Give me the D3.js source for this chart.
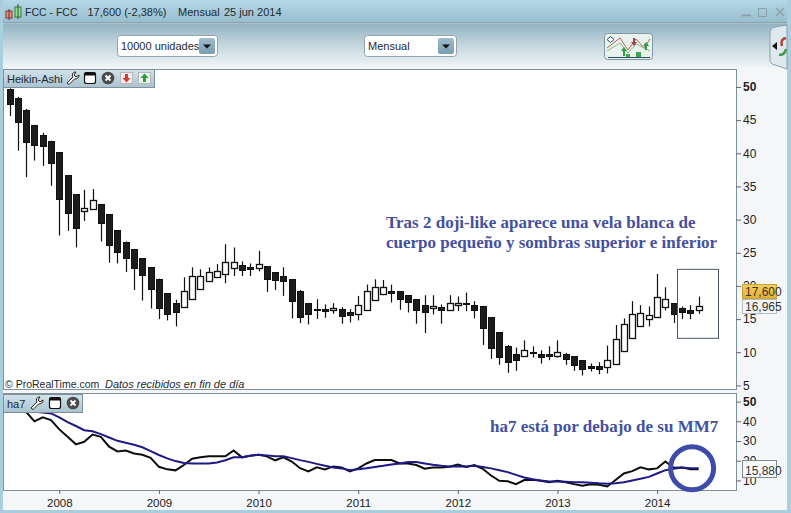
<!DOCTYPE html>
<html><head><meta charset="utf-8">
<script src="https://cdn.jsdelivr.net/npm/d3@7"></script>
<style>html,body{margin:0;padding:0;background:#fff;overflow:hidden}svg{display:block}text{font-family:"Liberation Sans",Arial,sans-serif}</style>
</head><body><div id="c"></div>
<script>
const opens=[49.7,48.4,46.6,44.2,42.7,41.8,40.2,36.7,33.8,31.3,31.6,32.3,30.8,28.4,26.7,25.5,24.2,22.8,21.1,18.9,17.4,16.8,18.0,19.6,20.7,21.3,21.8,22.7,23.1,22.9,22.7,23.0,22.1,21.5,21.0,19.3,17.4,16.5,16.5,16.3,16.5,16.0,15.7,16.5,17.8,18.9,19.3,19.2,18.6,18.0,17.2,16.6,16.8,16.5,17.1,17.4,17.2,16.9,15.3,13.0,11.0,9.8,9.4,10.0,9.8,9.7,9.5,9.8,9.4,8.8,8.0,7.9,7.7,8.2,10.1,12.1,13.9,15.0,15.3,16.8,17.4,16.6,16.3,16.3];
const closes=[47.4,44.8,41.8,41.2,41.0,38.5,33.1,30.9,28.6,31.8,32.9,29.4,26.1,25.1,24.3,22.6,21.6,19.5,16.8,15.7,16.1,19.2,21.5,21.5,22.1,22.2,23.6,23.6,22.4,22.6,23.3,21.0,20.9,20.7,17.7,15.4,15.7,16.3,16.2,16.6,15.4,15.5,17.1,19.3,19.8,19.9,19.0,18.0,17.5,16.3,16.2,16.9,16.3,17.5,17.4,17.2,16.5,13.6,10.7,9.2,8.6,8.9,10.3,9.8,9.4,9.4,10.1,9.1,8.0,7.4,7.7,7.4,8.8,12.0,14.2,15.7,15.9,15.6,18.3,18.0,15.7,16.0,15.9,16.9];
const highs=[49.8,48.5,46.7,44.3,43.1,41.9,40.2,36.7,33.8,34.5,34.6,32.3,30.8,28.4,26.7,25.5,24.2,22.8,21.1,18.9,17.9,21.3,22.8,22.5,22.8,23.3,26.3,25.8,23.7,23.4,25.3,23.0,22.1,22.8,21.0,19.4,17.4,18.0,17.2,17.4,16.8,16.5,18.5,20.2,21.0,20.9,20.2,19.2,18.6,18.0,18.6,18.6,17.2,18.6,18.4,19.0,17.7,17.0,15.3,13.0,11.1,10.7,11.8,10.9,10.3,10.9,11.8,9.9,9.4,8.8,8.3,8.5,11.0,14.1,15.1,17.7,17.1,16.9,21.8,19.8,17.4,16.9,17.1,18.4];
const lows=[45.6,40.4,36.4,38.9,38.1,35.1,27.6,28.3,25.8,29.8,31.6,26.7,23.5,23.4,22.1,19.4,17.8,16.6,15.0,14.8,13.9,16.8,18.0,19.6,20.7,21.3,20.4,21.5,21.5,21.5,22.2,19.1,19.4,18.5,15.1,14.4,14.2,15.0,15.2,15.8,14.3,14.5,14.8,16.5,17.8,18.6,17.5,16.4,16.0,14.3,12.9,15.7,14.3,16.3,16.2,16.2,15.1,11.1,9.0,8.1,6.9,7.2,9.4,9.2,8.3,8.8,9.2,8.1,7.2,6.5,7.1,6.7,6.8,8.2,10.1,12.1,13.9,13.9,15.3,16.3,14.4,15.0,15.0,15.8];
const ha7=[47.5,46.5,44.8,40.0,42.0,40.6,35.9,32.1,28.3,29.6,33.3,32.1,27.1,24.7,25.2,23.7,23.0,21.5,16.9,15.6,15.1,17.8,21.0,21.7,22.2,22.2,22.2,25.2,21.7,22.5,23.0,22.2,20.2,21.7,19.6,16.2,14.6,16.6,15.6,17.1,16.6,14.6,16.1,18.6,20.3,20.3,20.3,18.6,18.6,17.8,15.9,16.6,16.6,16.9,18.1,16.8,17.8,15.9,12.5,9.8,9.6,8.1,10.2,10.3,9.8,9.1,9.8,9.1,8.1,7.3,8.1,7.8,6.9,10.2,13.5,14.7,16.6,15.6,16.1,19.6,16.4,16.6,15.6,15.6];
const mm7=[47.5,46.8,46.0,44.9,44.5,44.0,42.0,39.6,37.6,35.5,34.9,33.5,31.8,30.1,29.1,28.1,26.8,24.9,22.9,21.2,19.8,18.8,18.6,18.6,18.6,19.1,20.2,21.7,21.8,22.5,23.0,22.7,22.2,22.2,21.3,20.3,19.4,18.4,17.4,16.6,16.1,15.2,15.7,16.2,16.8,17.4,18.1,18.6,19.3,19.3,18.6,17.9,17.4,17.1,17.1,17.1,17.4,16.8,16.1,15.2,14.2,12.8,11.5,10.6,10.0,9.5,9.5,9.3,9.1,9.0,8.8,8.5,8.3,8.5,9.1,10.0,10.8,11.8,13.5,15.2,15.9,16.6,16.2,16.2];
const priceTicks=[5,10,15,20,25,30,35,40,45,50];
const lowerTicks=[10,20,30,40,50];
const yearLabels=["2008","2009","2010","2011","2012","2013","2014"];
const yearIndex=[6,18,30,42,54,66,78];
const noteMain=["Tras 2 doji-like aparece una vela blanca de","cuerpo pequeño y sombras superior e inferior"];
const noteLower="ha7 está por debajo de su MM7";

const W=791,H=513;
const svg=d3.select("#c").append("svg").attr("width",W).attr("height",H);
const defs=svg.append("defs");
function grad(id,stops){const g=defs.append("linearGradient").attr("id",id).attr("x1",0).attr("y1",0).attr("x2",0).attr("y2",1);
 stops.forEach(s=>g.append("stop").attr("offset",s[0]).attr("stop-color",s[1]));}
grad("gTitle",[[0,"#b5d8e8"],[1,"#97bccb"]]);
grad("gTool",[[0,"#93b4c3"],[.45,"#c3d6de"],[1,"#f6f9fa"]]);
grad("gLabel",[[0,"#d3e3ea"],[1,"#a8c3d0"]]);
grad("gBtn",[[0,"#9fbccb"],[1,"#7b9dae"]]);
grad("gGold",[[0,"#f4cf58"],[1,"#e3ae35"]]);
defs.append("clipPath").attr("id","cpM").append("rect").attr("x",3).attr("y",70).attr("width",733).attr("height",319);
defs.append("clipPath").attr("id","cpL").append("rect").attr("x",3).attr("y",394).attr("width",733).attr("height",96);

// window chrome
svg.append("rect").attr("width",W).attr("height",H).attr("fill","#e9f0f3");
svg.append("rect").attr("width",W).attr("height",23).attr("fill","url(#gTitle)");
svg.append("rect").attr("y",22.5).attr("width",W).attr("height",1).attr("fill","#6f8f9d");
svg.append("rect").attr("y",24).attr("width",W).attr("height",46).attr("fill","url(#gTool)");
svg.append("rect").attr("width",3).attr("height",H).attr("fill","#a9cedd");
svg.append("rect").attr("x",787).attr("width",4).attr("height",H).attr("fill","#a9cedd");
svg.append("rect").attr("y",510).attr("width",W).attr("height",3).attr("fill","#a9cedd");
svg.append("rect").attr("x",3).attr("y",70).attr("width",784).attr("height",440).attr("fill","#f4f6f7");

// title bar
const tb=svg.append("g");
tb.append("rect").attr("x",6).attr("y",11).attr("width",6).attr("height",7).attr("fill","#e88b78").attr("stroke","#8a3b2e");
tb.append("rect").attr("x",15).attr("y",7).attr("width",6).attr("height",10).attr("fill","#8fe08f").attr("stroke","#2f7f2f");
tb.append("path").attr("d","M9 9V20M18 4V19").attr("stroke","#444").attr("stroke-width",1);
function T(x,y,s,size,o={}){return svg.append("text").attr("x",x).attr("y",y).attr("font-size",size).attr("fill",o.fill||"#1d2a30").attr("font-weight",o.w||"normal").attr("font-style",o.st||"normal").attr("text-anchor",o.a||"start").text(s);}
T(25,16,"FCC - FCC",10.5);T(87.5,16,"17,600 (-2,38%)",11);T(178,16,"Mensual",11);T(224,16,"25 jun 2014",11);
svg.append("path").attr("d","M742 15.5H751").attr("stroke","#8aa0aa").attr("stroke-width",2);
svg.append("rect").attr("x",758.5).attr("y",8.5).attr("width",8).attr("height",8).attr("fill","none").attr("stroke","#8aa0aa");
svg.append("path").attr("d","M776 8L784 16M784 8L776 16").attr("stroke","#8aa0aa").attr("stroke-width",1.5);

// combos
function combo(x,w,label){
 svg.append("rect").attr("x",x+.5).attr("y",35.5).attr("width",w).attr("height",21).attr("rx",3).attr("fill","#fff").attr("stroke","#8fa6b1");
 T(x+4,50,label,11);
 svg.append("rect").attr("x",x+w-18).attr("y",38).attr("width",16).attr("height",16).attr("rx",2).attr("fill","url(#gBtn)");
 svg.append("path").attr("d",`M${x+w-14} 44.5h8l-4 4z`).attr("fill","#111");
}
combo(117,100,"10000 unidades");combo(364,92,"Mensual");

// toolbar chart button
const tbn=svg.append("g").attr("transform","translate(604,33)");
tbn.append("rect").attr("x",.5).attr("y",.5).attr("width",48).attr("height",26).attr("rx",3).attr("fill","#e9f1ec").attr("stroke","#7f97a3");
tbn.append("path").attr("d","M3 15L16 5L24 17L32 6L40 15L46 6").attr("fill","none").attr("stroke","#b0664e");
tbn.append("path").attr("d","M3 18L16 10L24 20L32 11L46 18").attr("fill","none").attr("stroke","#8db887");
tbn.append("path").attr("d","M4 24.5H46").attr("stroke","#334a66").attr("stroke-width",1);
tbn.append("path").attr("d","M19 23v-5h-2l3-4 3 4h-2v5zM41 17v-4h-2l3-4 3 4h-2v4z").attr("fill","#2e9b45");
tbn.append("path").attr("d","M29 5v4h-2l3 4 3-4h-2v-4z").attr("fill","#a63f4a");
tbn.append("path").attr("d","M32 24v-5h5v5zM22 24v-3h4v3z").attr("fill","#3fa652");
tbn.append("path").attr("d","M3 6.5l3.5-3 3.5 3-3.5 3z").attr("fill","#fff").attr("stroke","#2a4f7a");

// side tab
svg.append("path").attr("d","M787 25L775 27Q770 28 770 33V60Q770 64 775 65L787 69Z").attr("fill","#dfe8ec").attr("stroke","#8aa0aa");
svg.append("path").attr("d","M772 46l5-4v8z").attr("fill","#111");
svg.append("path").attr("d","M786 38q-6 1-4 8").attr("fill","none").attr("stroke","#b5413e").attr("stroke-width",2.5);
svg.append("path").attr("d","M786 49q-1 6-7 6").attr("fill","none").attr("stroke","#3a9a48").attr("stroke-width",2.5);

// main panel
const x=d3.scaleLinear().domain([0,83]).range([9.5,698.6]);
const y=d3.scaleLinear().domain([5,50]).range([385.4,87]);
const yL=d3.scaleLinear().domain([10,50]).range([480.4,401.6]);
svg.append("rect").attr("x",3.5).attr("y",69.5).attr("width",733).attr("height",320).attr("fill","#fff").attr("stroke","#7f9099");
svg.append("rect").attr("x",3.5).attr("y",393.5).attr("width",733).attr("height",97).attr("fill","#fff").attr("stroke","#7f9099");

const gM=svg.append("g").attr("clip-path","url(#cpM)");
const idx=d3.range(opens.length);
gM.selectAll("line.w").data(idx).join("line").attr("class","w")
 .attr("x1",i=>Math.round(x(i))+.5).attr("x2",i=>Math.round(x(i))+.5)
 .attr("y1",i=>y(highs[i])).attr("y2",i=>y(lows[i])).attr("stroke","#111").attr("stroke-width",1.2);
gM.selectAll("rect.b").data(idx).join("rect").attr("class","b")
 .attr("x",i=>Math.round(x(i))-2.5).attr("width",6)
 .attr("y",i=>Math.round(y(Math.max(opens[i],closes[i])))+.5)
 .attr("height",i=>Math.max(1,Math.round(Math.abs(y(opens[i])-y(closes[i])))))
 .attr("fill",i=>closes[i]>=opens[i]?"#fff":"#1c1c1c").attr("stroke","#111").attr("stroke-width",i=>closes[i]>=opens[i]?1.3:1);

// highlight box
gM.append("rect").attr("x",677.5).attr("y",y(22.5)).attr("width",41).attr("height",y(12.1)-y(22.5)).attr("fill","none").attr("stroke","#4a5568").attr("stroke-width",1);

// lower panel
const gL=svg.append("g").attr("clip-path","url(#cpL)");
const ln=d3.line().x((d,i)=>x(i)).y(d=>yL(d));
gL.append("path").datum(ha7).attr("d",ln).attr("fill","none").attr("stroke","#0d0d0d").attr("stroke-width",2);
gL.append("path").datum(mm7).attr("d",ln).attr("fill","none").attr("stroke","#1d1a85").attr("stroke-width",2);
svg.append("circle").attr("cx",x(83)-6.5).attr("cy",468.3).attr("r",21.5).attr("fill","none").attr("stroke","#3f4ba8").attr("stroke-width",5);

// axes
function style(g){g.select(".domain").remove();g.selectAll(".tick line").attr("stroke","#667");g.selectAll("text").attr("fill","#222").attr("font-family","'Liberation Sans',Arial,sans-serif");}
const aM=svg.append("g").attr("transform","translate(736,0)").call(d3.axisRight(y).tickValues(priceTicks).tickSize(5).tickPadding(2)).call(style);
aM.selectAll("text").attr("font-size",12).attr("font-weight",d=>d===50?"bold":"normal");
const aL=svg.append("g").attr("transform","translate(736,0)").call(d3.axisRight(yL).tickValues(lowerTicks).tickSize(5).tickPadding(2)).call(style);
aL.selectAll("text").attr("font-size",12).attr("font-weight",d=>d===50?"bold":"normal");
const aX=svg.append("g").attr("transform","translate(0,490)").call(d3.axisBottom(x).tickValues(yearIndex).tickFormat((d,i)=>yearLabels[i]).tickSize(4).tickPadding(5)).call(style);
aX.selectAll("text").attr("font-size",11.5);

// price flags
function flag(xx,yy,h,label,fill,stroke){
 svg.append("rect").attr("x",xx+.5).attr("y",yy+.5).attr("width",34).attr("height",h).attr("fill",fill).attr("stroke",stroke);
 T(xx+3,yy+h-2.5,label,12,{fill:"#333"});
}
flag(742,284,14,"17,600","url(#gGold)","#c4a23a");
flag(742,299,14,"16,965","#f3f5f6","#b5bcc0");
flag(742,460,17,"15,880","#f8f9f9","#7f8b92");

// panel label tabs
function tab(xx,yy,w,h,name){
 svg.append("rect").attr("x",xx+.5).attr("y",yy+.5).attr("width",w).attr("height",h).attr("fill","url(#gLabel)").attr("stroke","#7f9099");
 T(xx+4,yy+14,name,11);
}
function wrench(xx,yy){svg.append("path").attr("transform",`translate(${xx},${yy})`).attr("d","M1 12L7 6Q5 2 9 1L10 1L8 4L10 6L13 4Q13 8 8.5 8L3 13.5Z").attr("fill","#fff").attr("stroke","#222");}
function winIcon(xx,yy){svg.append("rect").attr("x",xx+.5).attr("y",yy+.5).attr("width",11).attr("height",11).attr("rx",2).attr("fill","#fff").attr("stroke","#111").attr("stroke-width",1.2);
 svg.append("rect").attr("x",xx+.5).attr("y",yy+.5).attr("width",11).attr("height",3).attr("fill","#111");}
function closeIcon(cx,cy){svg.append("circle").attr("cx",cx).attr("cy",cy).attr("r",6.3).attr("fill","#4a4a4a");
 svg.append("path").attr("d",`M${cx-2.5} ${cy-2.5}L${cx+2.5} ${cy+2.5}M${cx+2.5} ${cy-2.5}L${cx-2.5} ${cy+2.5}`).attr("stroke","#fff").attr("stroke-width",2);}
tab(3,69,151,18,"Heikin-Ashi");
wrench(66,71);winIcon(84,72);closeIcon(108,78);
svg.append("rect").attr("x",120.5).attr("y",72.5).attr("width",12).attr("height",11).attr("fill","#f5e9e9").attr("stroke","#b8b8b8");
svg.append("path").attr("d","M125 74h3v4h2.5l-4 4.5-4-4.5h2.5z").attr("fill","#d23a3a");
svg.append("rect").attr("x",138.5).attr("y",72.5).attr("width",12).attr("height",11).attr("fill","#e8f3ea").attr("stroke","#b8b8b8");
svg.append("path").attr("d","M143 82h3v-4h2.5l-4-4.5-4 4.5h2.5z").attr("fill","#2e9b45");
tab(3,394,79,18,"ha7");
wrench(30,396);winIcon(49,397);closeIcon(73,403);

// footer and notes
T(5,388,"© ProRealTime.com",10.5);T(105,388,"Datos recibidos en fin de día",11,{st:"italic"});
const noteFont="'Liberation Serif','Times New Roman',serif";
noteMain.forEach((s,i)=>T(386,228+i*20,s,17,{fill:"#4350a0",w:"bold"}).style("font-family",noteFont));
T(490,432,noteLower,17,{fill:"#4350a0",w:"bold"}).style("font-family",noteFont);
</script></body></html>
